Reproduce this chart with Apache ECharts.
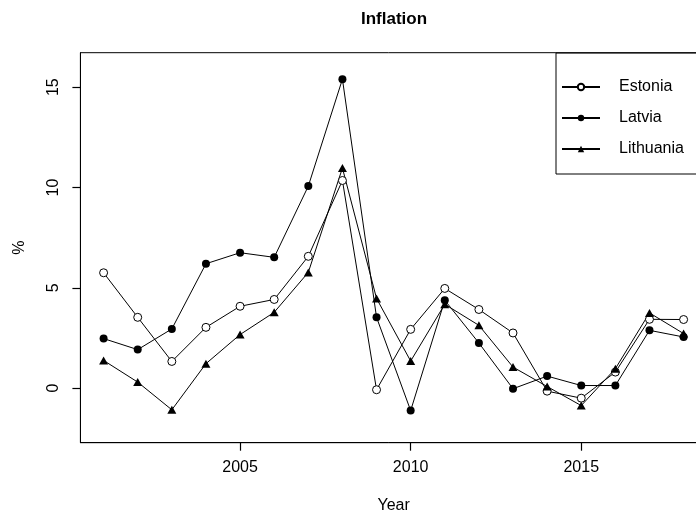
<!DOCTYPE html>
<html>
<head>
<meta charset="utf-8">
<script src="https://cdn.jsdelivr.net/npm/echarts@6/dist/echarts.min.js"></script>
<style>html,body{margin:0;padding:0;background:#fff}#c{width:696px;height:512px}</style>
</head>
<body>
<div id="c"></div>
<script>
var years = [2001,2002,2003,2004,2005,2006,2007,2008,2009,2010,2011,2012,2013,2014,2015,2016,2017,2018];
var estonia   = [5.75,3.53,1.33,3.03,4.08,4.42,6.57,10.35,-0.08,2.93,4.97,3.92,2.75,-0.15,-0.5,0.8,3.43,3.42];
var latvia    = [2.47,1.92,2.95,6.2,6.75,6.52,10.07,15.4,3.53,-1.12,4.38,2.25,-0.03,0.6,0.13,0.13,2.88,2.55];
var lithuania = [1.38,0.3,-1.08,1.22,2.67,3.78,5.77,10.97,4.47,1.35,4.18,3.13,1.05,0.08,-0.87,0.97,3.75,2.72];
var xTicks = [2005,2010,2015];
var yTicks = [0,5,10,15];
var seriesNames = ['Estonia','Latvia','Lithuania'];

function pairs(v){ return years.map(function(y,i){ return [y, v[i]]; }); }
var FONT = 'Liberation Sans, Arial, sans-serif';
var chart = echarts.init(document.getElementById('c'));
var lineStyle = {color:'#000', width:1};
chart.setOption({
  animation:false,
  backgroundColor:'#fff',
  title:{text:'Inflation', left:356, top:6, textStyle:{fontFamily:FONT, fontSize:17, fontWeight:'bold', color:'#000'}},
  grid:{left:80.4, right:-10.8, top:52.7, bottom:69.3, show:true, borderColor:'#000', borderWidth:1,
    backgroundColor:'transparent', containLabel:false, outerBoundsMode:'none'},
  xAxis:{type:'value', min:2000.32, max:2018.68,
    name:'Year', nameLocation:'middle', nameGap:55, nameTextStyle:{fontFamily:FONT, fontSize:16, color:'#000'},
    axisLine:{show:true, onZero:false, lineStyle:{color:'#000', width:1}}, splitLine:{show:false},
    axisTick:{show:true, inside:false, length:8, lineStyle:{color:'#000', width:1.2}, customValues:xTicks},
    axisLabel:{customValues:xTicks, margin:17, fontFamily:FONT, fontSize:16, color:'#000',
      formatter:function(v){ return String(v); }}},
  yAxis:{type:'value', min:-2.72, max:16.72,
    name:'%', nameLocation:'middle', nameGap:53, nameRotate:90, nameTextStyle:{fontFamily:FONT, fontSize:16, color:'#000'},
    axisLine:{show:true, onZero:false, lineStyle:{color:'#000', width:1}}, splitLine:{show:false},
    axisTick:{show:true, inside:false, length:8, lineStyle:{color:'#000', width:1.2}, customValues:yTicks},
    axisLabel:{customValues:yTicks, rotate:90, margin:19, fontFamily:FONT, fontSize:16, color:'#000'}},
  legend:{orient:'vertical', left:561, top:79, itemWidth:38, itemHeight:8, itemGap:15, padding:0,
    textStyle:{fontFamily:FONT, fontSize:16, color:'#000', padding:[0,0,0,14]},
    data:seriesNames},
  graphic:[{type:'rect', shape:{x:556, y:53, width:200, height:121}, style:{fill:'none', stroke:'#000', lineWidth:1}, silent:true}],
  series:[
    {name:seriesNames[0], type:'line', data:pairs(estonia), symbol:'circle', symbolSize:8,
      lineStyle:lineStyle, itemStyle:{color:'#fff', borderColor:'#000', borderWidth:1}},
    {name:seriesNames[1], type:'line', data:pairs(latvia), symbol:'circle', symbolSize:8,
      lineStyle:lineStyle, itemStyle:{color:'#000'}},
    {name:seriesNames[2], type:'line', data:pairs(lithuania), symbol:'triangle', symbolSize:[9,8],
      lineStyle:lineStyle, itemStyle:{color:'#000'}}
  ]
});
</script>
</body>
</html>
